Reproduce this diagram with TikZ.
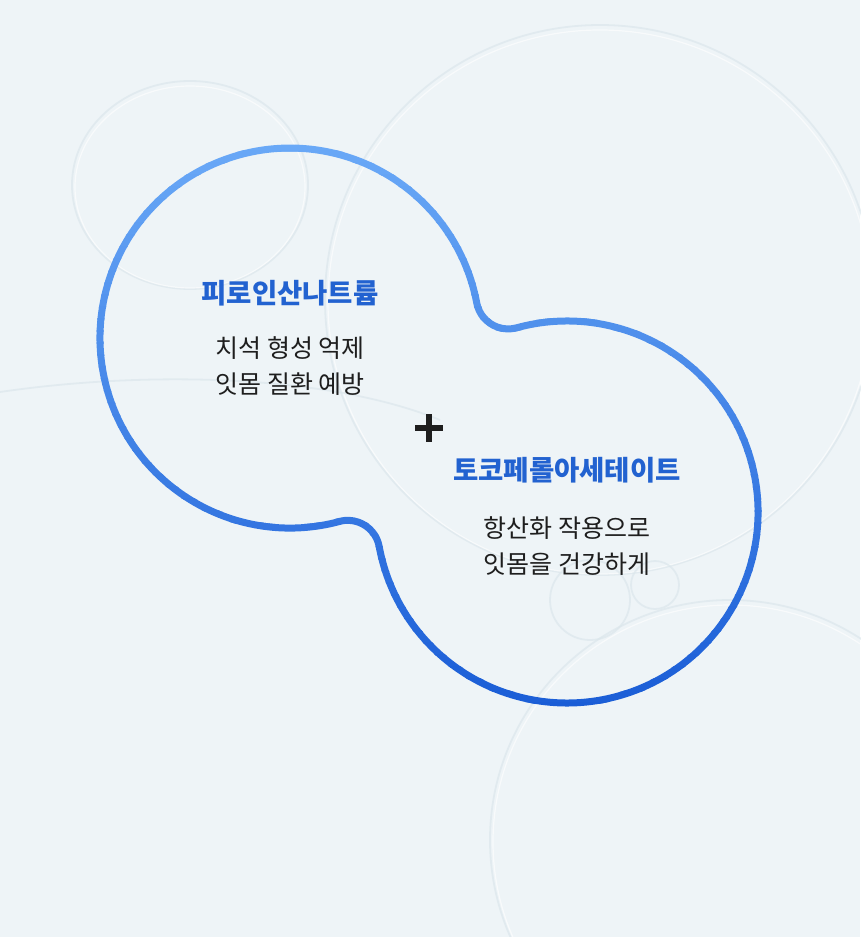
\documentclass[tikz,border=0pt]{standalone}
\usepackage{fontspec}
\newfontfamily\krfont{Noto Sans CJK KR}
\usepackage{tikz}
\usetikzlibrary{positioning}
\definecolor{bgcol}{HTML}{EEF4F7}
\definecolor{bubbleline}{HTML}{DCE7EC}
\definecolor{blobtop}{HTML}{6AA9F7}
\definecolor{blobbottom}{HTML}{1A5DD6}
\definecolor{titleblue}{HTML}{2262D0}
\definecolor{bodytext}{HTML}{1E1E1E}
\tikzset{
  bubble/.style={draw=bubbleline, line width=1.8pt, opacity=0.7},
  shine/.style={draw=white, line width=1.2pt, opacity=0.6},
  title/.style={font=\krfont\bfseries\fontsize{27.5}{32}\selectfont, text=titleblue},
  body/.style={font=\krfont\fontsize{25}{36}\selectfont, text=bodytext, align=center},
  plusbar/.style={line width=5.5pt, draw=bodytext}
}
% outline of the two merged bubbles (left circle, fillet, right circle, fillet)
\newcommand{\blobpath}{(339.4,521.5)
  arc[start angle=74.93, end angle=349.33, radius=190]
  arc[start angle=169.33, end angle=74.69, radius=32]
  arc[start angle=254.69, end angle=529.59, radius=191]
  arc[start angle=-10.41, end angle=-105.07, radius=32] -- cycle}

\begin{document}
\begin{tikzpicture}[x=1pt, y=-1pt]
  \fill[bgcol] (0,0) rectangle (860,937);
  \useasboundingbox (0,0) rectangle (860,937);

  % faint bubbles in the background
  \draw[bubble] (190,185) ellipse[x radius=118, y radius=104];
  \draw[shine] (190,187) ellipse[x radius=115, y radius=101];
  \draw[bubble] (600,300) circle[radius=275];
  \draw[shine] (600,302) circle[radius=272];
  \draw[bubble] (0,392) .. controls (150,370) and (330,375) .. (440,420);
  \draw[bubble] (730,840) circle[radius=240];
  \draw[shine] (730,842) circle[radius=237];
  \draw[bubble] (590,600) circle[radius=40];
  \draw[bubble] (655,585) circle[radius=24];

  % gradient outline, drawn band by band
  \foreach \i in {0,...,47} {
    \pgfmathsetmacro{\mixv}{100*\i/47}
    \begin{scope}
      \clip (0,{138+\i*12}) rectangle (860,{151+\i*12});
      \draw[line width=7pt, color=blobbottom!\mixv!blobtop] \blobpath;
    \end{scope}
  }

  \node[title] (pyro) at (290,293) {피로인산나트륨};
  \node[body, below=24pt of pyro] (pyrotext) {치석 형성 억제\\잇몸 질환 예방};

  \coordinate (plus) at (429,428);
  \draw[plusbar] ([yshift=14pt]plus) -- ([yshift=-14pt]plus);
  \draw[plusbar] ([xshift=-14pt]plus) -- ([xshift=14pt]plus);

  \node[title] (toco) at (567,470) {토코페롤아세테이트};
  \node[body, below=27pt of toco] (tocotext) {항산화 작용으로\\잇몸을 건강하게};
\end{tikzpicture}
\end{document}
